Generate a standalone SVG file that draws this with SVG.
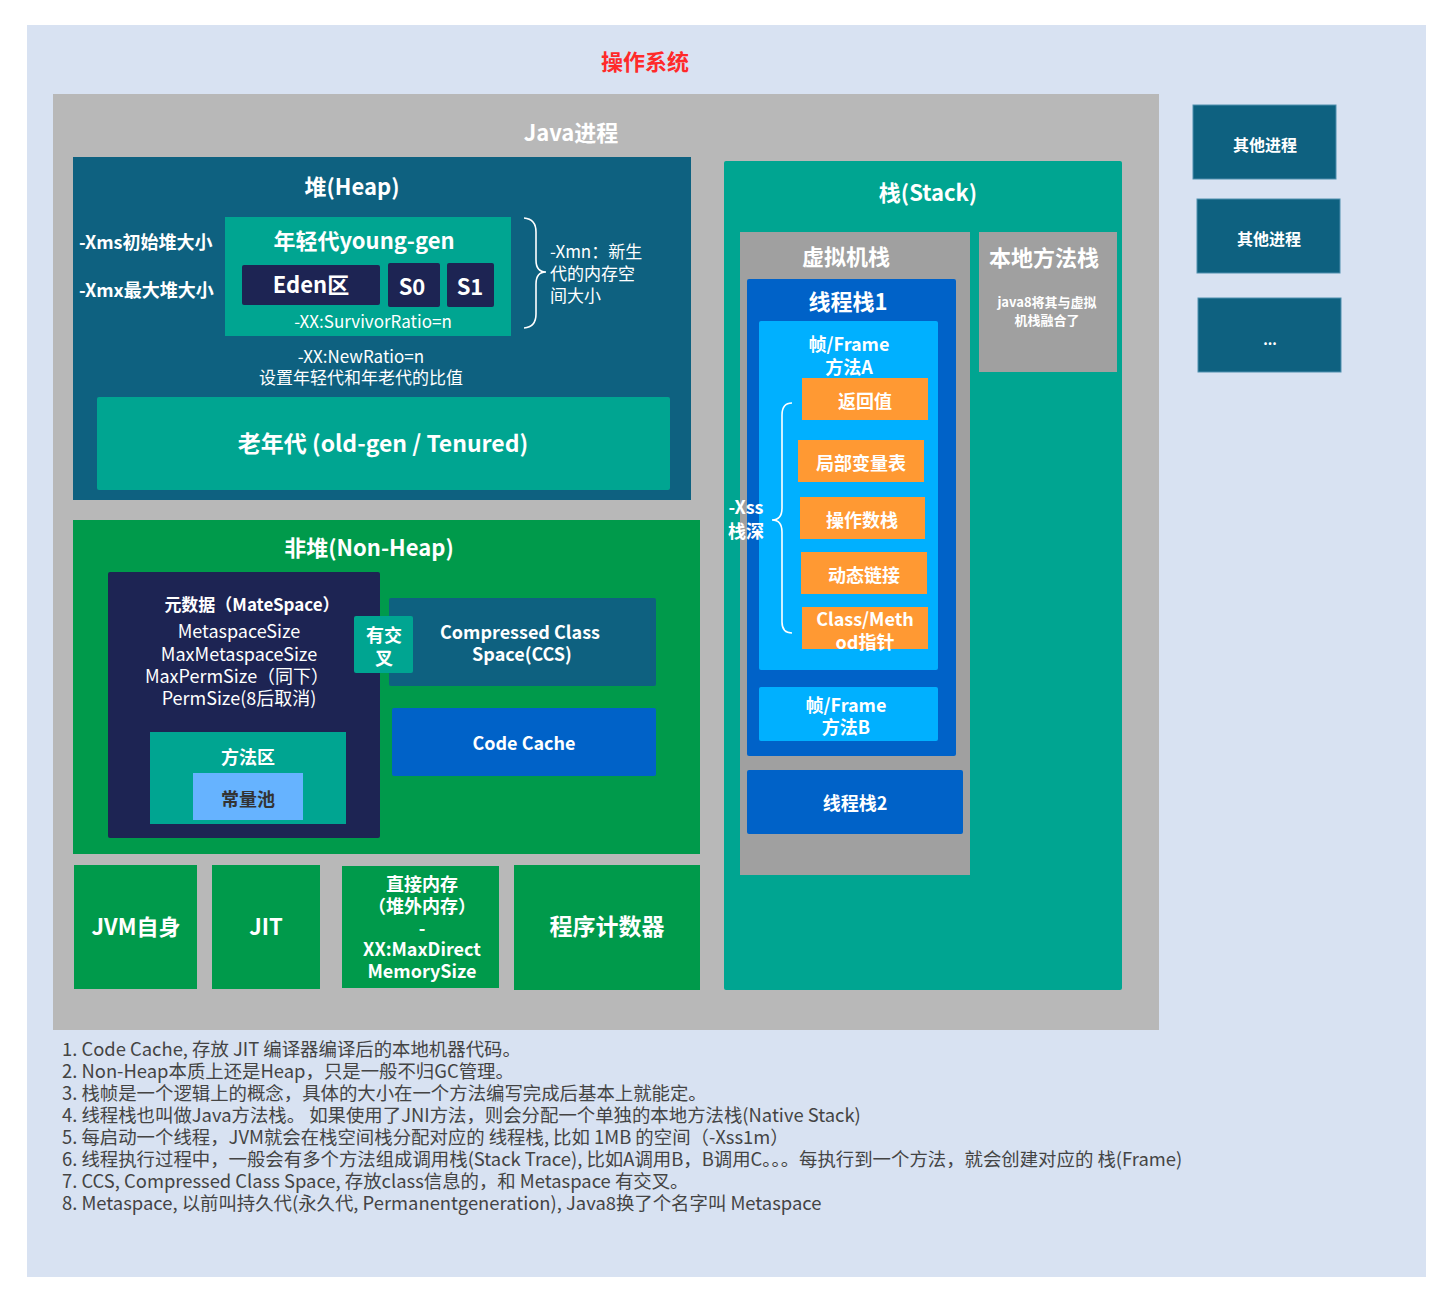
<svg xmlns="http://www.w3.org/2000/svg" width="1451" height="1303" viewBox="0 0 1451 1303">
<style>
text{font-family:"Noto Sans CJK SC","Liberation Sans",sans-serif;fill:#fff;text-anchor:middle}
.b{font-weight:bold}
.t22{font-size:22px;font-weight:bold}
.t18{font-size:18px;font-weight:bold}
.r17{font-size:17px}
.note{font-size:18.4px;fill:#444;text-anchor:start}
.teal{fill:#00a591}
.navy{fill:#1d2453}
.heapc{fill:#0e6180}
.green{fill:#009a4b}
.blue{fill:#0062c8}
.sky{fill:#00b0ff}
.org{fill:#ff9933}
.gray{fill:#a0a0a0}
</style>
<rect x="0" y="0" width="1451" height="1303" fill="#ffffff"/>
<rect x="27" y="25" width="1399" height="1252" fill="#d8e2f2"/>
<text x="645" y="70" font-size="22" class="b" style="fill:#ff2a2a">操作系统</text>

<g id="java-process">
<rect x="53" y="94" width="1106" height="936" fill="#b8b8b8"/>
<text x="571" y="141" class="t22">Java进程</text>
</g>

<g id="heap">
<rect x="73" y="157" width="618" height="343" class="heapc"/>
<text x="352" y="195" class="t22">堆(Heap)</text>
<text x="79" y="249" class="b" style="font-size:18px;text-anchor:start">-Xms初始堆大小</text>
<text x="79" y="297" class="b" style="font-size:18px;text-anchor:start">-Xmx最大堆大小</text>
<text class="r17" style="text-anchor:start"><tspan x="550" y="258">-Xmn：新生</tspan><tspan x="550" y="280">代的内存空</tspan><tspan x="550" y="302">间大小</tspan></text>
<text class="r17"><tspan x="361" y="363">-XX:NewRatio=n</tspan><tspan x="361" y="384">设置年轻代和年老代的比值</tspan></text>
</g>

<g id="young-gen">
<rect x="225" y="217" width="286" height="119" class="teal"/>
<text x="364" y="249" class="t22">年轻代young-gen</text>
<text x="373" y="328" class="r17">-XX:SurvivorRatio=n</text>
</g>
<g id="eden"><rect x="242" y="265" width="138" height="40" rx="2" class="navy"/><text x="311" y="293" class="t22">Eden区</text></g>
<g id="s0"><rect x="388" y="263" width="52" height="44" rx="2" class="navy"/><text x="412" y="295" class="t22">S0</text></g>
<g id="s1"><rect x="447" y="263" width="47" height="44" rx="2" class="navy"/><text x="470" y="295" class="t22">S1</text></g>
<g id="old-gen">
<rect x="97" y="397" width="573" height="93" rx="2" class="teal"/>
<text x="383" y="452" class="b" style="font-size:23px">老年代 (old-gen / Tenured)</text>
</g>

<g id="non-heap">
<rect x="73" y="520" width="627" height="334" class="green"/>
<text x="369" y="556" class="t22">非堆(Non-Heap)</text>
</g>
<g id="metaspace">
<rect x="108" y="572" width="272" height="266" rx="2" class="navy"/>
<text x="252" y="611" class="r17 b">元数据（MateSpace）</text>
<text style="font-size:18px"><tspan x="239" y="638">MetaspaceSize</tspan><tspan x="239" y="661">MaxMetaspaceSize</tspan><tspan x="237" y="683">MaxPermSize（同下）</tspan><tspan x="239" y="705">PermSize(8后取消)</tspan></text>
</g>
<g id="method-area">
<rect x="150" y="732" width="196" height="92" class="teal"/>
<text x="248" y="764" class="t18">方法区</text>
</g>
<g id="constant-pool">
<rect x="193" y="773" width="110" height="47" fill="#66b3ff"/>
<text x="248" y="806" class="t18" style="fill:#333">常量池</text>
</g>
<g id="ccs">
<rect x="389" y="598" width="267" height="88" rx="2" class="heapc"/>
<text class="t18"><tspan x="520" y="639">Compressed Class</tspan><tspan x="522" y="661">Space(CCS)</tspan></text>
</g>
<g id="overlap">
<rect x="354" y="616" width="59" height="57" rx="2" class="teal"/>
<text class="t18"><tspan x="384" y="642">有交</tspan><tspan x="384" y="665">叉</tspan></text>
</g>
<g id="code-cache">
<rect x="392" y="708" width="264" height="68" rx="2" class="blue"/>
<text x="524" y="750" class="t18">Code Cache</text>
</g>

<g id="jvm-self"><rect x="74" y="865" width="123" height="124" class="green"/><text x="136" y="935" class="t22">JVM自身</text></g>
<g id="jit"><rect x="212" y="865" width="108" height="124" class="green"/><text x="266" y="935" class="t22">JIT</text></g>
<g id="direct-memory"><rect x="342" y="866" width="157" height="122" class="green"/>
<text class="t18"><tspan x="422" y="891">直接内存</tspan><tspan x="422" y="913">（堆外内存）</tspan><tspan x="422" y="935">-</tspan><tspan x="422" y="956">XX:MaxDirect</tspan><tspan x="422" y="978">MemorySize</tspan></text>
</g>
<g id="pc"><rect x="514" y="865" width="186" height="125" class="green"/><text x="607" y="935" class="b" style="font-size:23px">程序计数器</text></g>

<g id="stack">
<rect x="724" y="161" width="398" height="829" rx="2" class="teal"/>
<text x="928" y="201" class="t22">栈(Stack)</text>
</g>
<g id="vm-stack">
<rect x="740" y="232" width="230" height="643" class="gray"/>
<text x="846" y="265" class="t22">虚拟机栈</text>
</g>
<g id="native-stack">
<rect x="979" y="232" width="138" height="140" class="gray"/>
<text x="1044" y="266" class="t22">本地方法栈</text>
<text class="b" style="font-size:13px"><tspan x="1047" y="307">java8将其与虚拟</tspan><tspan x="1047" y="325">机栈融合了</tspan></text>
</g>
<g id="thread-stack-1">
<rect x="747" y="279" width="209" height="477" rx="2" class="blue"/>
<text x="848" y="310" class="t22">线程栈1</text>
</g>
<g id="frame-a">
<rect x="759" y="321" width="179" height="349" rx="2" class="sky"/>
<text class="t18"><tspan x="849" y="351">帧/Frame</tspan><tspan x="849" y="374">方法A</tspan></text>
</g>
<g id="return-value"><rect x="802" y="378" width="126" height="42" class="org"/><text x="865" y="408" class="t18">返回值</text></g>
<g id="local-vars"><rect x="798" y="440" width="126" height="42" class="org"/><text x="861" y="470" class="t18">局部变量表</text></g>
<g id="operand-stack"><rect x="800" y="497" width="125" height="42" class="org"/><text x="862" y="527" class="t18">操作数栈</text></g>
<g id="dynamic-link"><rect x="801" y="552" width="126" height="42" class="org"/><text x="864" y="582" class="t18">动态链接</text></g>
<g id="class-method-ptr"><rect x="802" y="607" width="126" height="42" class="org"/>
<text class="t18"><tspan x="865" y="626">Class/Meth</tspan><tspan x="865" y="649">od指针</tspan></text></g>
<g id="frame-b">
<rect x="759" y="687" width="179" height="54" rx="2" class="sky"/>
<text class="t18"><tspan x="846" y="712">帧/Frame</tspan><tspan x="846" y="734">方法B</tspan></text>
</g>
<g id="thread-stack-2">
<rect x="747" y="770" width="216" height="64" rx="2" class="blue"/>
<text x="855" y="810" class="t18">线程栈2</text>
</g>
<g id="xss-label">
<text class="t18"><tspan x="746" y="514">-Xss</tspan><tspan x="746" y="538">栈深</tspan></text>
</g>

<g id="others">
<g id="other-1"><rect x="1193" y="105" width="143" height="74" fill="#0e6180" stroke="#4f8fae" stroke-width="1"/><text x="1265" y="151" class="b" style="font-size:16px">其他进程</text></g>
<g id="other-2"><rect x="1197" y="199" width="143" height="74" fill="#0e6180" stroke="#4f8fae" stroke-width="1"/><text x="1269" y="245" class="b" style="font-size:16px">其他进程</text></g>
<g id="other-3"><rect x="1198" y="298" width="143" height="74" fill="#0e6180" stroke="#4f8fae" stroke-width="1"/><text x="1270" y="345" class="b" style="font-size:14px">...</text></g>
</g>

<g id="connectors" fill="none" stroke="#fff" stroke-width="1.6">
<path d="M524 218 Q536 219 536 232 L536 260 Q536 272 546 272 Q536 272 536 284 L536 314 Q536 327 524 328"/>
<path d="M792 403 Q782 403 782 415 L782 508 Q782 520 772 520 Q782 520 782 532 L782 622 Q782 633 792 633"/>
</g>

<g id="notes">
<text class="note">
<tspan x="62" y="1056">1. Code Cache, 存放 JIT 编译器编译后的本地机器代码。</tspan>
<tspan x="62" y="1078">2. Non-Heap本质上还是Heap，只是一般不归GC管理。</tspan>
<tspan x="62" y="1100">3. 栈帧是一个逻辑上的概念，具体的大小在一个方法编写完成后基本上就能定。</tspan>
<tspan x="62" y="1122">4. 线程栈也叫做Java方法栈。 如果使用了JNI方法，则会分配一个单独的本地方法栈(Native Stack)</tspan>
<tspan x="62" y="1144">5. 每启动一个线程，JVM就会在栈空间栈分配对应的 线程栈, 比如 1MB 的空间（-Xss1m）</tspan>
<tspan x="62" y="1166">6. 线程执行过程中，一般会有多个方法组成调用栈(Stack Trace), 比如A调用B，B调用C。。。每执行到一个方法，就会创建对应的 栈(Frame)</tspan>
<tspan x="62" y="1188">7. CCS, Compressed Class Space, 存放class信息的，和 Metaspace 有交叉。</tspan>
<tspan x="62" y="1210">8. Metaspace, 以前叫持久代(永久代, Permanentgeneration), Java8换了个名字叫 Metaspace</tspan>
</text>
</g>
</svg>
